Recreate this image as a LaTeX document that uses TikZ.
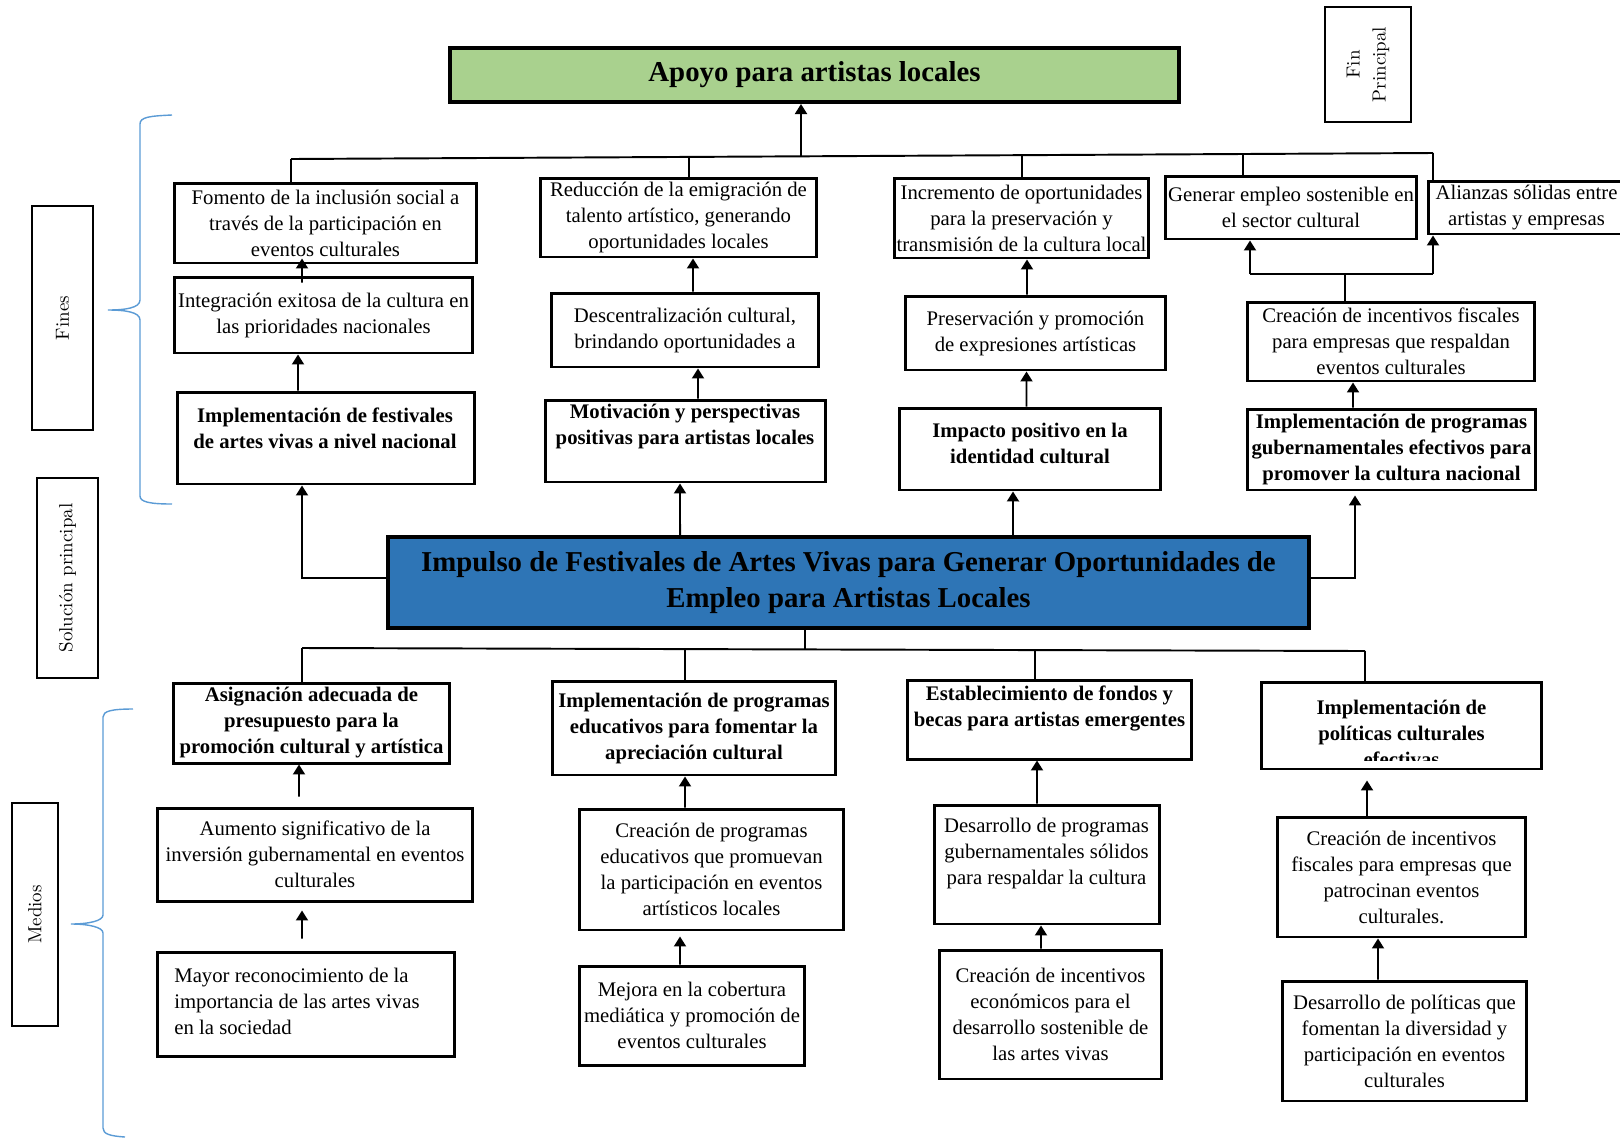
\documentclass[tikz,border=0pt]{standalone}
\usepackage{fontspec}
\newfontfamily\tnr{Liberation Serif}
\usetikzlibrary{arrows.meta}
\definecolor{MLGreen}{HTML}{A9D18E}
\definecolor{MLBlue}{HTML}{2E75B6}
\definecolor{MLBrace}{HTML}{5B9BD5}

\begin{document}
\begin{tikzpicture}[x=0.02cm,y=-0.02cm,
  box/.style={draw,line width=1.7pt,inner sep=0pt,align=center,font={\tnr\fontsize{11.8}{14.8}\selectfont}},
  boxb/.style={box,font={\tnr\bfseries\fontsize{11.8}{14.8}\selectfont}},
  txt/.style={inner sep=0pt,align=center,font={\tnr\fontsize{11.8}{14.8}\selectfont}},
  txtb/.style={txt,font={\tnr\bfseries\fontsize{11.8}{14.8}\selectfont}},
  title/.style={draw,line width=2.3pt,inner sep=0pt,align=center,font={\tnr\bfseries\fontsize{16.4}{20}\selectfont}},
  side/.style={draw,line width=1.5pt,inner sep=0pt,rotate=90,align=center,font={\fontsize{10.8}{14.8}\selectfont}},
  con/.style={line width=1.1pt},
  arr/.style={con,-{Triangle[length=2mm,width=2.4mm]}},
  brace/.style={MLBrace,line width=0.8pt}]
\path[use as bounding box] (0,0) rectangle (1620,1137);
\node[title,fill=MLGreen,minimum width=14.58cm,minimum height=1.08cm] (apoyo) at (814.5,75) {Apoyo para artistas locales};
\node[side,minimum width=2.3cm,minimum height=1.72cm] (fin) at (1368,64.5) {Fin\\Principal};
\node[side,minimum width=4.48cm,minimum height=1.22cm] (fines) at (62.5,318) {Fines};
\node[side,minimum width=4cm,minimum height=1.22cm] (solucion) at (67.5,578) {Solución principal};
\node[side,minimum width=4.46cm,minimum height=0.92cm] (medios) at (35,914.5) {Medios};
\node[box,minimum width=6.06cm,minimum height=1.6cm] (fomento) at (325.5,223) {Fomento de la inclusión social a\\través de la participación en\\eventos culturales};
\node[box,minimum width=5.54cm,minimum height=1.58cm] (reduccion) at (678.5,217.5) {Reducción de la emigración de\\talento artístico, generando\\oportunidades locales};
\node[box,minimum width=5.1cm,minimum height=1.6cm] (incremento) at (1021.5,218) {Incremento de oportunidades\\para la preservación y\\transmisión de la cultura local};
\node[box,minimum width=5.04cm,minimum height=1.26cm] (generar) at (1291,207.5) {Generar empleo sostenible en\\el sector cultural};
\node[box,minimum width=3.94cm,minimum height=1.06cm] (alianzas) at (1526.5,207.5) {Alianzas sólidas entre\\artistas y empresas};
\node[box,minimum width=5.98cm,minimum height=1.52cm] (integ) at (323.5,315) {Integración exitosa de la cultura en\\las prioridades nacionales};
\node[box,minimum width=5.36cm,minimum height=1.48cm] (descent) at (685,330) {Descentralización cultural,\\brindando oportunidades a};
\node[box,minimum width=5.22cm,minimum height=1.48cm] (preserv) at (1035.5,333) {Preservación y promoción\\de expresiones artísticas};
\node[box,minimum width=5.76cm,minimum height=1.58cm] (fiscal) at (1391,341.5) {Creación de incentivos fiscales\\para empresas que respaldan\\eventos culturales};
\node[boxb,minimum width=5.96cm,minimum height=1.84cm] (festiv) at (326,438) {};
\node[txtb] (festivT) at (325,428) {Implementación de festivales\\de artes vivas a nivel nacional};
\node[boxb,minimum width=5.62cm,minimum height=1.64cm] (motiv) at (685.5,441) {};
\node[txtb] (motivT) at (685,426.5) {Motivación y perspectivas\\positivas para artistas locales};
\node[boxb,minimum width=5.24cm,minimum height=1.64cm] (impacto) at (1030,449) {};
\node[txtb] (impactoT) at (1030,443.5) {Impacto positivo en la\\identidad cultural};
\node[boxb,minimum width=5.78cm,minimum height=1.62cm] (progGub) at (1391.5,449.5) {Implementación de programas\\gubernamentales efectivos para\\promover la cultura nacional};
\node[title,fill=MLBlue,minimum width=18.42cm,minimum height=1.82cm] (impulso) at (848.5,582.5) {Impulso de Festivales de Artes Vivas para Generar Oportunidades de\\Empleo para Artistas Locales};
\node[boxb,minimum width=5.54cm,minimum height=1.6cm] (asign) at (311.5,723) {Asignación adecuada de\\presupuesto para la\\promoción cultural y artística};
\node[boxb,minimum width=5.68cm,minimum height=1.88cm] (progEduc) at (694,728) {Implementación de programas\\educativos para fomentar la\\apreciación cultural};
\node[boxb,minimum width=5.7cm,minimum height=1.58cm] (establ) at (1049.5,719.5) {};
\node[txtb] (establT) at (1049.5,708) {Establecimiento de fondos y\\becas para artistas emergentes};
\node[boxb,minimum width=5.62cm,minimum height=1.74cm] (polit) at (1401.5,725.5) {};
\begin{scope}
\clip (1261,684) rectangle (1542,760);
\node[txtb] (politT) at (1401.5,733) {Implementación de\\políticas culturales\\efectivas};
\end{scope}
\node[box,minimum width=6.32cm,minimum height=1.86cm] (aumento) at (315,854.5) {Aumento significativo de la\\inversión gubernamental en eventos\\culturales};
\node[box,minimum width=5.3cm,minimum height=2.42cm] (creaProg) at (711.5,869.5) {Creación de programas\\educativos que promuevan\\la participación en eventos\\artísticos locales};
\node[box,minimum width=4.52cm,minimum height=2.38cm] (desProg) at (1047,864.5) {};
\node[txt] (desProgT) at (1046.5,853) {Desarrollo de programas\\gubernamentales sólidos\\para respaldar la cultura};
\node[box,minimum width=4.98cm,minimum height=2.4cm] (creaFisc) at (1401.5,877) {Creación de incentivos\\fiscales para empresas que\\patrocinan eventos\\culturales.};
\node[box,minimum width=5.96cm,minimum height=2.08cm] (mayor) at (306,1004) {};
\node[txt,align=left,anchor=west] (mayorT) at (174,1001) {Mayor reconocimiento de la\\importancia de las artes vivas\\en la sociedad};
\node[box,minimum width=4.52cm,minimum height=1.98cm] (mejora) at (692,1015.5) {Mejora en la cobertura\\mediática y promoción de\\eventos culturales};
\node[box,minimum width=4.46cm,minimum height=2.58cm] (creaEcon) at (1050.5,1014.5) {Creación de incentivos\\económicos para el\\desarrollo sostenible de\\las artes vivas};
\node[box,minimum width=4.9cm,minimum height=2.4cm] (desPol) at (1404.5,1041) {Desarrollo de políticas que\\fomentan la diversidad y\\participación en eventos\\culturales};
\coordinate (t1) at (291,159);
\coordinate (t2) at (689,157.5);
\coordinate (tm) at (801,156.5);
\coordinate (t3) at (1022,155);
\coordinate (t4) at (1243,154);
\coordinate (t5) at (1433,153);
\draw[con] (t1) -- (t5);
\draw[arr] (tm) -- (tm |- apoyo.south);
\draw[con] (t1) -- (t1 |- fomento.north);
\draw[con] (t2) -- (t2 |- reduccion.north);
\draw[con] (t3) -- (t3 |- incremento.north);
\draw[con] (t4) -- (t4 |- generar.north);
\draw[con] (t5) -- (t5 |- alianzas.north);
\draw[arr] ([xshift=-0.43cm,yshift=-0.14cm]integ.north) -- ([xshift=-0.47cm,yshift=0.12cm]fomento.south);
\draw[arr] ([xshift=-0.56cm]festiv.north) -- ([xshift=-0.51cm]integ.south);
\draw[arr] ([xshift=0.16cm]descent.north) -- ([xshift=0.29cm]reduccion.south);
\draw[arr] ([xshift=0.25cm]motiv.north) -- ([xshift=0.26cm]descent.south);
\draw[arr] ([xshift=-0.17cm]preserv.north) -- ([xshift=0.11cm]incremento.south);
\draw[arr] ([xshift=-0.07cm]impacto.north) -- ([xshift=-0.18cm]preserv.south);
\coordinate (fm) at (1345,274);
\coordinate (fl) at (1250,274);
\coordinate (fr) at (1433,274);
\draw[con] (fm |- fiscal.north) -- (fm);
\draw[con] (fl) -- (fr);
\draw[arr] (fl) -- (fl |- generar.south);
\draw[arr] (fr) -- (fr |- alianzas.south);
\draw[arr] ([xshift=-0.77cm]progGub.north) -- ([xshift=-0.76cm]fiscal.south);
\draw[arr] ([yshift=0.09cm]impulso.west) -| ([xshift=-0.48cm]festiv.south);
\draw[arr] ([xshift=-3.37cm]impulso.north) -- ([xshift=-0.11cm]motiv.south);
\draw[arr] ([xshift=3.29cm]impulso.north) -- ([xshift=-0.34cm]impacto.south);
\draw[arr,shorten >=0.08cm] ([yshift=0.09cm]impulso.east) -| ([xshift=-0.73cm]progGub.south);
\coordinate (bm) at (805,649);
\coordinate (b1) at (302,648);
\coordinate (b2) at (685,650);
\coordinate (b3) at (1035,651);
\coordinate (b4) at (1365,651);
\draw[con] (bm |- impulso.south) -- (bm);
\draw[con] (b1) -- (b4);
\draw[con] (b1) -- (b1 |- asign.north);
\draw[con] (b2) -- (b2 |- progEduc.north);
\draw[con] (b3) -- (b3 |- establ.north);
\draw[con] (b4) -- (b4 |- polit.north);
\draw[arr] ([xshift=-0.32cm,yshift=0.2cm]aumento.north) -- ([xshift=-0.25cm]asign.south);
\draw[arr] ([xshift=-0.53cm]creaProg.north) -- ([xshift=-0.18cm]progEduc.south);
\draw[arr] ([xshift=-0.2cm]desProg.north) -- ([xshift=-0.25cm]establ.south);
\draw[arr,shorten >=0.2cm] ([xshift=-0.69cm]creaFisc.north) -- ([xshift=-0.69cm]polit.south);
\draw[arr,shorten >=0.16cm] ([xshift=-0.08cm,yshift=0.24cm]mayor.north) -- ([xshift=-0.26cm]aumento.south);
\draw[arr,shorten >=0.1cm] ([xshift=-0.24cm]mejora.north) -- ([xshift=-0.63cm]creaProg.south);
\draw[arr] ([xshift=-0.19cm]creaEcon.north) -- ([xshift=-0.12cm]desProg.south);
\draw[arr] ([xshift=-0.53cm]desPol.north) -- ([xshift=-0.47cm]creaFisc.south);
\draw[brace] (172,115) .. controls (150,116) and (140,117) .. (140,124) -- (140,300) .. controls (140,308) and (125,310) .. (108,310) .. controls (125,310) and (140,312) .. (140,320) -- (140,496) .. controls (140,502) and (150,504) .. (172,504);
\draw[brace] (133,709) .. controls (112,709) and (103,711) .. (103,717) -- (103,915) .. controls (103,921) and (88,924) .. (71,924) .. controls (88,924) and (103,927) .. (103,933) -- (103,1128) .. controls (103,1134) and (110,1136) .. (125,1137);
\end{tikzpicture}
\end{document}
